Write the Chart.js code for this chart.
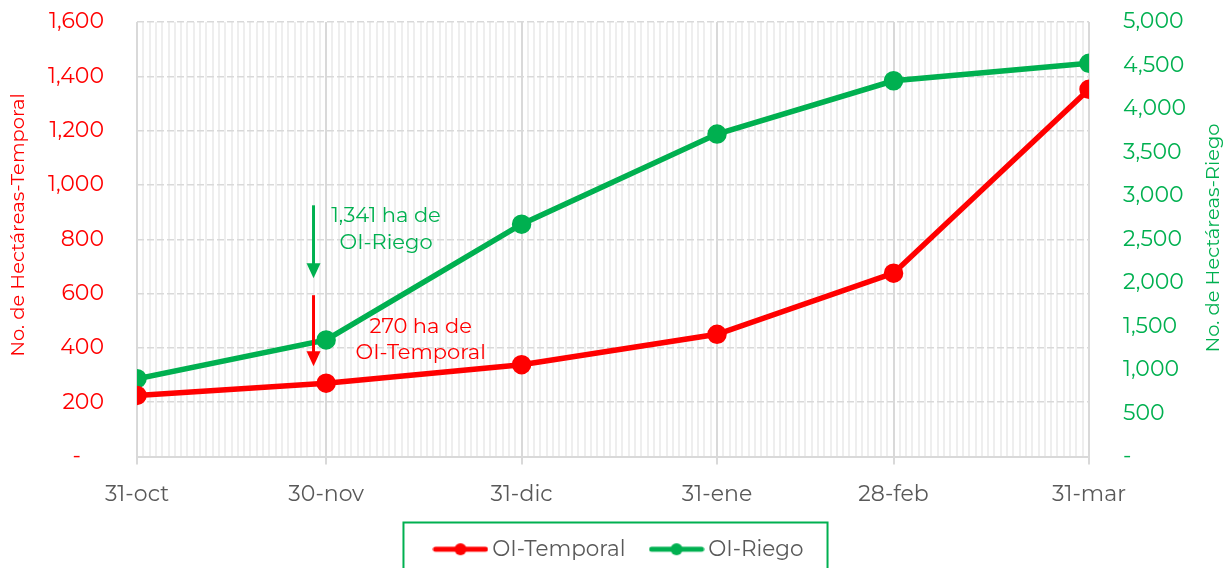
<!DOCTYPE html>
<html>
<head>
<meta charset="utf-8">
<script src="https://cdn.jsdelivr.net/npm/chart.js@4.4.1/dist/chart.umd.min.js"></script>
<style>
html, body { margin: 0; padding: 0; background: #fff; }
</style>
</head>
<body>
<canvas id="chart" width="1225" height="568"></canvas>
<script>
// fechas de corte y dias desde 31-oct
const fechas = ["31-oct", "30-nov", "31-dic", "31-ene", "28-feb", "31-mar"];
const dias = [0, 30, 61, 92, 120, 151];

// hectareas acumuladas
const temporal = [225, 270, 338, 450, 675, 1352];
const riego = [895, 1341, 2673, 3710, 4324, 4525];

const rojo = "#ff0000";
const verde = "#00b050";
const gris = "#595959";
const fuente = "Montserrat, 'Open Sans', sans-serif";

function marcador(color){
    const c = document.createElement("canvas");
    c.width = 56;
    c.height = 14;
    const g = c.getContext("2d");
    g.strokeStyle = color;
    g.lineWidth = 5;
    g.lineCap = "round";
    g.beginPath();
    g.moveTo(3, 7);
    g.lineTo(53, 7);
    g.stroke();
    g.fillStyle = color;
    g.beginPath();
    g.arc(28, 7, 6, 0, Math.PI * 2);
    g.fill();
    return c;
}
const marcadores = [marcador(rojo), marcador(verde)];

// flechas y notas del 30-nov
const notas = [
    { lineas: ["1,341 ha de", "OI-Riego"], dia: 39.5, y: [888, 785], color: verde },
    { lineas: ["270 ha de", "OI-Temporal"], dia: 45, y: [479, 383], color: rojo }
];
const flechas = [
    { dia: 28, desde: 925, hasta: 656, color: verde },
    { dia: 28, desde: 594, hasta: 332, color: rojo }
];

function tituloVertical(ctx, texto, color, x, y){
    ctx.save();
    ctx.font = "19.5px " + fuente;
    ctx.textAlign = "center";
    ctx.textBaseline = "middle";
    ctx.fillStyle = color;
    ctx.translate(x, y);
    ctx.rotate(-Math.PI / 2);
    ctx.fillText(texto, 0, 0);
    ctx.restore();
}

const extras = {
    id: "extras",
    afterLayout(chart){
        // la leyenda va un poco a la derecha y abajo
        const lg = chart.legend;
        lg.left += 18;
        lg.top += 2;
        lg.bottom += 2;
    },
    afterDatasetsDraw(chart){
        const ctx = chart.ctx;
        const x = chart.scales.x;
        const y = chart.scales.y;
        ctx.save();
        flechas.forEach(f => {
            const px = x.getPixelForValue(f.dia);
            const y0 = y.getPixelForValue(f.desde);
            const y1 = y.getPixelForValue(f.hasta);
            ctx.strokeStyle = f.color;
            ctx.fillStyle = f.color;
            ctx.lineWidth = 3;
            ctx.beginPath();
            ctx.moveTo(px, y0);
            ctx.lineTo(px, y1 - 14);
            ctx.stroke();
            ctx.beginPath();
            ctx.moveTo(px - 7, y1 - 15);
            ctx.lineTo(px + 7, y1 - 15);
            ctx.lineTo(px, y1);
            ctx.closePath();
            ctx.fill();
        });
        ctx.font = "21px " + fuente;
        ctx.textAlign = "center";
        ctx.textBaseline = "middle";
        notas.forEach(n => {
            ctx.fillStyle = n.color;
            n.lineas.forEach((t, i) => {
                ctx.fillText(t, x.getPixelForValue(n.dia), y.getPixelForValue(n.y[i]));
            });
        });
        ctx.restore();
    },
    afterDraw(chart){
        const ctx = chart.ctx;
        const area = chart.chartArea;
        tituloVertical(ctx, "No. de Hectáreas-Temporal", rojo, 18, area.top + 203);
        tituloVertical(ctx, "No. de Hectáreas-Riego", verde, 1213, area.top + 216);
        // marco de la leyenda
        const hb = chart.legend.legendHitBoxes;
        if(hb && hb.length){
            const l = Math.min(...hb.map(h => h.left)) - 36;
            const r = Math.max(...hb.map(h => h.left + h.width)) + 24;
            ctx.save();
            ctx.strokeStyle = verde;
            ctx.lineWidth = 2;
            ctx.strokeRect(l, hb[0].top - 16, r - l, 100);
            ctx.restore();
        }
    }
};

const ctx = document.getElementById("chart").getContext("2d");

const chart = new Chart(ctx, {
    type: "line",
    data: {
        datasets: [{
            label: "OI-Temporal",
            data: dias.map((d, i) => ({ x: d, y: temporal[i] })),
            borderColor: rojo,
            backgroundColor: rojo,
            borderWidth: 5.5,
            pointRadius: 7,
            pointHoverRadius: 7,
            tension: 0,
            yAxisID: "y"
        }, {
            label: "OI-Riego",
            data: dias.map((d, i) => ({ x: d, y: riego[i] })),
            borderColor: verde,
            backgroundColor: verde,
            borderWidth: 5.5,
            pointRadius: 7,
            pointHoverRadius: 7,
            tension: 0,
            yAxisID: "y1"
        }]
    },
    options: {
        responsive: false,
        animation: false,
        layout: {
            padding: { top: 22, left: 0, right: 0, bottom: 0 }
        },
        plugins: {
            tooltip: { enabled: false },
            legend: {
                position: "bottom",
                labels: {
                    usePointStyle: true,
                    pointStyleWidth: 42,
                    boxHeight: 14,
                    color: gris,
                    padding: 30,
                    font: { size: 21.5, family: fuente },
                    generateLabels(chart){
                        const items = Chart.defaults.plugins.legend.labels.generateLabels(chart);
                        items.forEach((it, i) => { it.pointStyle = marcadores[i]; });
                        return items;
                    }
                }
            }
        },
        scales: {
            x: {
                type: "linear",
                min: dias[0],
                max: dias[dias.length - 1],
                afterBuildTicks: s => {
                    const t = [];
                    for(let d = dias[0]; d <= dias[dias.length - 1]; d++) t.push({ value: d });
                    s.ticks = t;
                },
                afterFit: s => { s.height = 50; },
                ticks: {
                    autoSkip: false,
                    maxRotation: 0,
                    color: gris,
                    padding: 17,
                    font: { size: 22, family: fuente },
                    callback: v => {
                        const i = dias.indexOf(v);
                        return i >= 0 ? fechas[i] : "";
                    }
                },
                grid: {
                    color: c => dias.includes(c.tick.value) ? "#d9d9d9" : "#eeeeee",
                    lineWidth: 2,
                    tickColor: c => dias.includes(c.tick.value) ? "#d9d9d9" : "rgba(0,0,0,0)",
                    tickLength: 8
                },
                border: { display: true, color: "#d9d9d9", width: 2 }
            },
            y: {
                position: "left",
                min: 0,
                max: 1600,
                afterFit: s => { s.width = 137; s.paddingTop = 11; s.paddingBottom = 11; },
                ticks: {
                    stepSize: 200,
                    color: rojo,
                    padding: 33,
                    font: { size: 22, family: fuente },
                    callback: v => v === 0 ? "-    " : v.toLocaleString("en-US")
                },
                grid: {
                    color: "#d9d9d9",
                    lineWidth: 1.5,
                    drawTicks: false
                },
                border: { display: false, dash: [7, 3] }
            },
            y1: {
                position: "right",
                min: 0,
                max: 5000,
                afterFit: s => { s.width = 136; s.paddingTop = 11; s.paddingBottom = 11; },
                ticks: {
                    stepSize: 500,
                    color: verde,
                    padding: 34,
                    font: { size: 22, family: fuente },
                    callback: v => v === 0 ? "-" : v.toLocaleString("en-US")
                },
                grid: {
                    drawOnChartArea: false,
                    drawTicks: false
                },
                border: { display: false }
            }
        }
    },
    plugins: [extras]
});
</script>
</body>
</html>
